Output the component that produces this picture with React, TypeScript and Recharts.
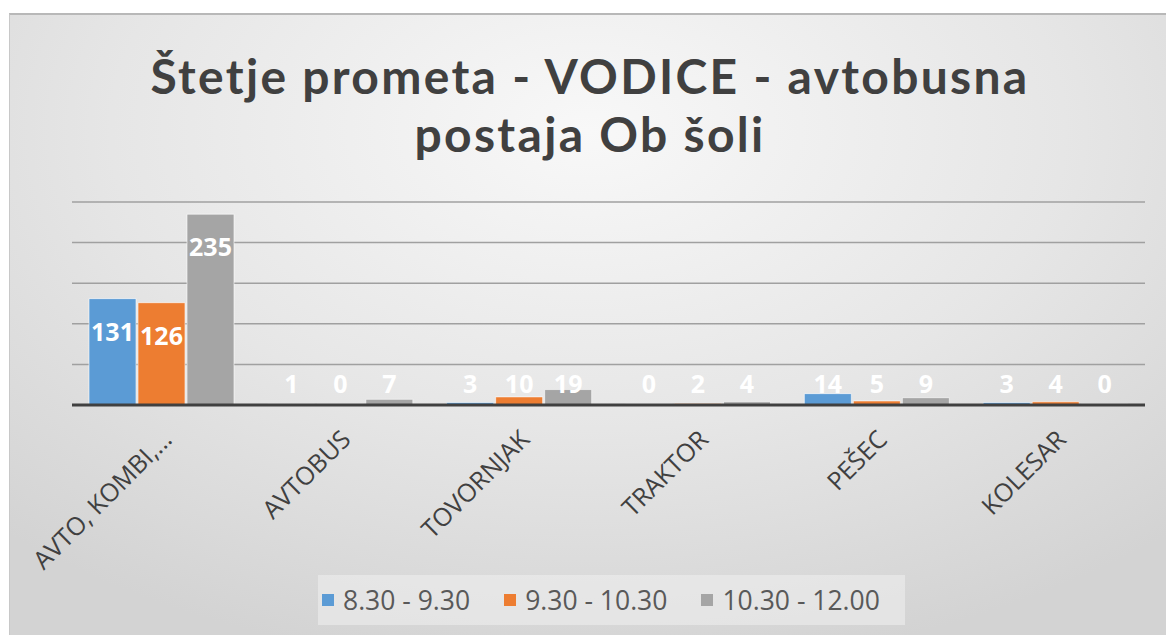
import { BarChart, Bar, XAxis, YAxis, CartesianGrid, LabelList } from 'recharts'

const categories = ['AVTO, KOMBI,...', 'AVTOBUS', 'TOVORNJAK', 'TRAKTOR', 'PEŠEC', 'KOLESAR']
const slot1 = [131, 1, 3, 0, 14, 3]
const slot2 = [126, 0, 10, 2, 5, 4]
const slot3 = [235, 7, 19, 4, 9, 0]
const yTicks = [0, 50, 100, 150, 200, 250]
const titleLines = ['Štetje prometa - VODICE - avtobusna', 'postaja Ob šoli']

const series = [
  { key: 's1', name: '8.30 - 9.30', color: '#5B9BD5', values: slot1 },
  { key: 's2', name: '9.30 - 10.30', color: '#ED7D31', values: slot2 },
  { key: 's3', name: '10.30 - 12.00', color: '#A5A5A5', values: slot3 },
]

const data = categories.map((c, i) => {
  const row: Record<string, string | number> = { cat: c }
  series.forEach(s => {
    row[s.key] = s.values[i]
    row[s.key + 'Label'] = String(s.values[i])
  })
  return row
})

const FONT = '"Open Sans", "Noto Sans", sans-serif'
const TITLE_FONT = 'Lato, "Open Sans", sans-serif'

function ValueLabel(props: any) {
  const { x, y, width, height, value } = props
  const base = y + height
  const cy = Math.min(y + 32, base - 22)
  return (
    <text
      x={x + width / 2}
      y={cy}
      textAnchor="middle"
      dominantBaseline="central"
      fill="#ffffff"
      fontSize={25}
      fontWeight={700}
      fontFamily={FONT}
    >
      {value}
    </text>
  )
}

function CatTick({ x, y, payload }: any) {
  const tx = x + 12
  const ty = y + 28
  return (
    <text
      x={tx}
      y={ty}
      textAnchor="end"
      transform={`rotate(-45, ${tx}, ${ty})`}
      fill="#404040"
      fontSize={25}
      fontFamily={FONT}
    >
      {payload.value}
    </text>
  )
}

export default function App() {
  return (
    <div style={{ position: 'absolute', left: 0, top: 0, width: 1170, height: 635, background: '#fff', overflow: 'hidden' }}>
      <div
        style={{
          position: 'absolute', left: 9, top: 13, width: 1156, height: 640,
          borderTop: '2px solid #b8b8b8', borderLeft: '1px solid #c8c8c8',
          background: 'radial-gradient(ellipse 75% 85% at 50% 18%, #f8f8f8 0%, #e6e6e6 55%, #d3d3d3 100%)',
        }}
      />
      {titleLines.map((line, i) => (
        <div
          key={i}
          style={{
            position: 'absolute', left: 0, top: 48 + i * 58, width: 1180, textAlign: 'center',
            fontFamily: TITLE_FONT, fontSize: 48, fontWeight: 700, lineHeight: '56px',
            letterSpacing: 2.3, color: '#404040', whiteSpace: 'nowrap',
          }}
        >
          {line}
        </div>
      ))}
      <div style={{ position: 'absolute', left: 0, top: 0 }}>
        <BarChart
          width={1170}
          height={635}
          data={data}
          margin={{ top: 202, right: 25, bottom: 200, left: 72 }}
          barCategoryGap={17}
          barGap={2}
        >
          <CartesianGrid vertical={false} stroke="#a0a0a0" strokeWidth={1.5} />
          <YAxis hide domain={[0, 250]} ticks={yTicks} />
          <XAxis
            dataKey="cat"
            height={30}
            axisLine={{ stroke: '#404040', strokeWidth: 3 }}
            tickLine={false}
            interval={0}
            tick={<CatTick />}
          />
          {series.map(s => (
            <Bar
              key={s.key}
              dataKey={s.key}
              name={s.name}
              fill={s.color}
              stroke="#ffffff"
              strokeOpacity={0.6}
              strokeWidth={1}
              minPointSize={1}
              isAnimationActive={false}
            >
              <LabelList dataKey={s.key + 'Label'} content={<ValueLabel />} />
            </Bar>
          ))}
        </BarChart>
      </div>
      <div
        style={{
          position: 'absolute', left: 318, top: 575, width: 587, height: 50,
          background: 'rgba(240,240,240,0.55)', display: 'flex', alignItems: 'center',
          justifyContent: 'flex-start', paddingLeft: 4, boxSizing: 'border-box', gap: 34,
          fontFamily: FONT, fontSize: 26.5, color: '#595959',
        }}
      >
        {series.map(s => (
          <div key={s.key} style={{ display: 'flex', alignItems: 'center', gap: 9 }}>
            <span style={{ width: 12, height: 12, background: s.color, display: 'inline-block' }} />
            <span>{s.name}</span>
          </div>
        ))}
      </div>
    </div>
  )
}
